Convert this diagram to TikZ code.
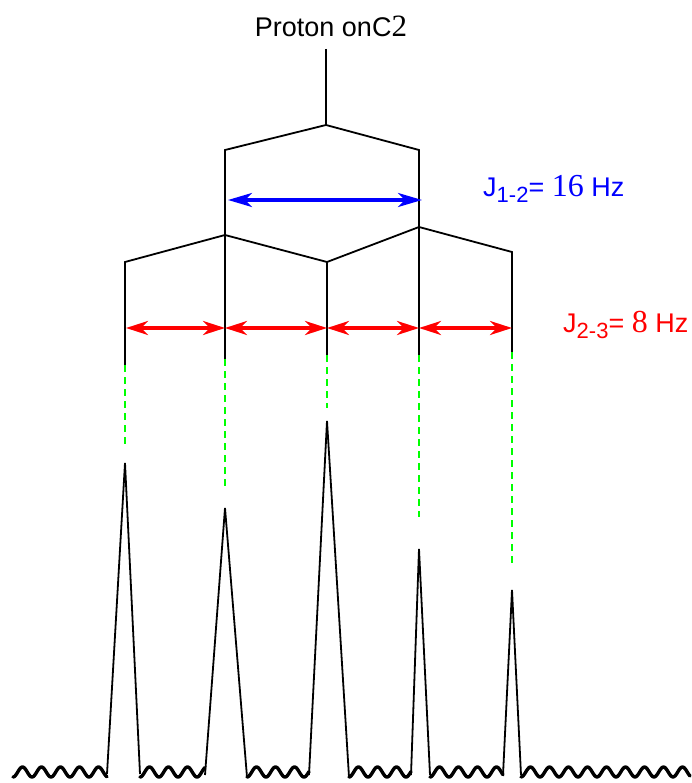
\documentclass[tikz,border=0pt]{standalone}
\usepackage{fontspec}
\setmainfont{Liberation Sans}
\newfontfamily\serifnum{Liberation Serif}
\usetikzlibrary{arrows.meta}
\definecolor{pgreen}{RGB}{0,255,0}
\definecolor{pblue}{RGB}{0,0,255}
\definecolor{pred}{RGB}{255,0,0}
\tikzset{
  tree/.style={line width=1.8pt, black},
  peakline/.style={line width=1.8pt, black, line join=bevel},
  guide/.style={line width=2.2pt, pgreen, dash pattern=on 7pt off 5pt},
  jblue/.style={line width=3.5pt, pblue, {Stealth[length=24pt,width=14pt,inset=7pt]}-{Stealth[length=24pt,width=14pt,inset=7pt]}},
  jred/.style={line width=3.5pt, pred, {Stealth[length=22pt,width=14pt,inset=7pt]}-{Stealth[length=22pt,width=14pt,inset=7pt]}},
  wave/.style={line width=3.4pt, black, line cap=round, line join=round},
  lbl/.style={inner sep=0pt, anchor=base west},
}
\newcommand{\wv}[2]{\draw[wave] plot[domain=#1:#2, samples=150, smooth] (\x, {772 + 5*cos(18.95*(\x-#1))});}
\begin{document}
\begin{tikzpicture}[x=1pt, y=-1pt]
\useasboundingbox (0,0) rectangle (692,783);
% title
\node[inner sep=0pt, anchor=base] (title) at (331,37) {\fontsize{27}{30}\selectfont Proton onC{\serifnum\fontsize{31}{30}\selectfont 2}};
% tree coordinates
\coordinate (top) at (326,49);
\coordinate (root) at (326,125);
\coordinate (L1) at (225,150);
\coordinate (R1) at (419,150);
\coordinate (L1b) at (225,235);
\coordinate (R1b) at (419,227);
\coordinate (a) at (125,262);
\coordinate (c) at (327,262);
\coordinate (e) at (512,252);
\coordinate (aend) at (125,365);
\coordinate (bend) at (225,359);
\coordinate (cend) at (327,355);
\coordinate (dend) at (419,355);
\coordinate (eend) at (512,352);
\coordinate (ag) at (125,446);
\coordinate (bg) at (225,486);
\coordinate (cg) at (327,408);
\coordinate (dg) at (419,517);
\coordinate (eg) at (512,564);
% tree lines
\draw[tree] (top) -- (root);
\draw[tree] (root) -- (L1) -- (bend);
\draw[tree] (root) -- (R1) -- (dend);
\draw[tree] (L1b) -- (a) -- (aend);
\draw[tree] (L1b) -- (c) -- (cend);
\draw[tree] (R1b) -- (c);
\draw[tree] (R1b) -- (e) -- (eend);
% green guides
\draw[guide] (aend) -- (ag);
\draw[guide] (bend) -- (bg);
\draw[guide] (cend) -- (cg);
\draw[guide] (dend) -- (dg);
\draw[guide] (eend) -- (eg);
% coupling arrows
\coordinate (bl) at (228,200);
\coordinate (br) at (422,200);
\draw[jblue] (bl) -- (br);
\coordinate (r1) at (126,328);
\coordinate (r2) at (225,328);
\coordinate (r3) at (327,328);
\coordinate (r4) at (419,328);
\coordinate (r5) at (512,328);
\draw[jred] (r1) -- (r2);
\draw[jred] (r2) -- (r3);
\draw[jred] (r3) -- (r4);
\draw[jred] (r4) -- (r5);
\node[lbl, text=pblue] (j12) at (483,197) {\fontsize{27}{30}\selectfont J\raisebox{-6pt}{\fontsize{22}{24}\selectfont 1-2}= {\serifnum\fontsize{32}{30}\selectfont 16} Hz};
\node[lbl, text=pred] (j23) at (563,332) {\fontsize{27}{30}\selectfont J\raisebox{-6pt}{\fontsize{22}{24}\selectfont 2-3}= {\serifnum\fontsize{32}{30}\selectfont 8} Hz};
% peaks
\coordinate (p1) at (125,463);
\coordinate (p2) at (225,508);
\coordinate (p3) at (327,421);
\coordinate (p4) at (419,549);
\coordinate (p5) at (512,590);
\coordinate (p1l) at (107,774);
\coordinate (p1r) at (140,774);
\coordinate (p2l) at (205,775);
\coordinate (p2r) at (247,777);
\coordinate (p3l) at (309,775);
\coordinate (p3r) at (349,777);
\coordinate (p4l) at (411,775);
\coordinate (p4r) at (430,775);
\coordinate (p5l) at (503,775);
\coordinate (p5r) at (521,775);
\draw[peakline] (p1l) -- (p1) -- (p1r);
\draw[peakline] (p2l) -- (p2) -- (p2r);
\draw[peakline] (p3l) -- (p3) -- (p3r);
\draw[peakline] (p4l) -- (p4) -- (p4r);
\draw[peakline] (p5l) -- (p5) -- (p5r);
% baseline waves
\wv{13}{107}
\wv{140}{205}
\wv{247}{309}
\wv{349}{411}
\wv{430}{503}
\wv{521}{690}
\end{tikzpicture}
\end{document}
